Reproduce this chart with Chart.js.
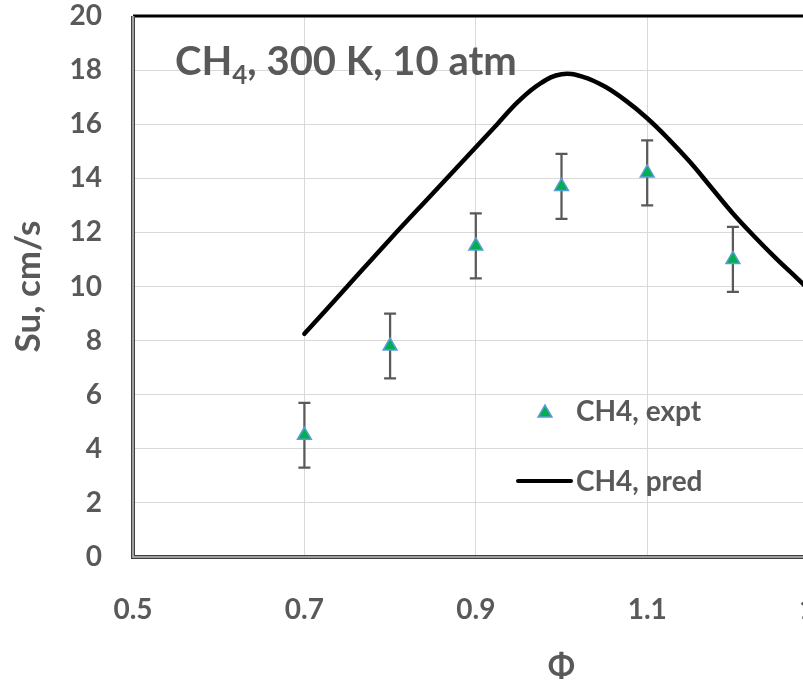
<!DOCTYPE html>
<html>
<head>
<meta charset="utf-8">
<script src="https://cdn.jsdelivr.net/npm/chart.js@4.4.1/dist/chart.umd.min.js"></script>
<style>
  html, body { margin: 0; padding: 0; background: #fff; overflow: hidden; }
  #wrap { position: relative; width: 803px; height: 686px; overflow: hidden; }
  #box { position: absolute; left: 0; top: 0; width: 1000px; height: 686px; }
</style>
</head>
<body>
<div id="wrap"><div id="box"><canvas id="c"></canvas></div></div>
<script>
// experiment: flame speed vs equivalence ratio
const phiExpt = [0.7, 0.8, 0.9, 1.0, 1.1, 1.2];
const suExpt = [4.5, 7.8, 11.5, 13.7, 14.2, 11.0];
const suErr = [1.2, 1.2, 1.2, 1.2, 1.2, 1.2];

// model prediction
const phiPred = [0.70, 0.75, 0.80, 0.85, 0.90, 0.925, 0.95, 0.975, 1.00, 1.025, 1.05, 1.075,
  1.10, 1.125, 1.15, 1.175, 1.20, 1.225, 1.25, 1.275, 1.30];
const suPred = [8.25, 10.0, 11.75, 13.45, 15.15, 16.0, 16.85, 17.5, 17.85, 17.75, 17.4, 16.87,
  16.22, 15.45, 14.6, 13.65, 12.7, 11.85, 11.05, 10.3, 9.55];

const xTicks = [0.5, 0.7, 0.9, 1.1, 1.3, 1.5];
const yTicks = [0, 2, 4, 6, 8, 10, 12, 14, 16, 18, 20];

const GREY = '#595959';
const FONT = 'Lato';

Chart.defaults.font.family = FONT;
Chart.defaults.color = GREY;

const noPad = s => { s.paddingTop = 0; s.paddingBottom = 0; s.paddingLeft = 0; s.paddingRight = 0; };

const errorBars = {
  id: 'errorBars',
  beforeDatasetsDraw(chart) {
    const { ctx, scales: { x, y } } = chart;
    ctx.save();
    ctx.strokeStyle = GREY;
    ctx.lineWidth = 2.25;
    phiExpt.forEach((p, i) => {
      const px = x.getPixelForValue(p);
      const top = y.getPixelForValue(suExpt[i] + suErr[i]);
      const bot = y.getPixelForValue(suExpt[i] - suErr[i]);
      ctx.beginPath();
      ctx.moveTo(px, top); ctx.lineTo(px, bot);
      ctx.moveTo(px - 6, top); ctx.lineTo(px + 6, top);
      ctx.moveTo(px - 6, bot); ctx.lineTo(px + 6, bot);
      ctx.stroke();
    });
    ctx.restore();
  }
};

const decorations = {
  id: 'decorations',
  afterDraw(chart) {
    const { ctx, chartArea: a } = chart;
    ctx.save();
    // frame
    ctx.strokeStyle = '#000';
    ctx.lineWidth = 3;
    ctx.beginPath(); ctx.moveTo(a.left, a.top); ctx.lineTo(a.right, a.top); ctx.stroke();
    ctx.strokeStyle = '#404040';
    ctx.lineWidth = 4;
    ctx.beginPath();
    ctx.moveTo(a.left, a.top); ctx.lineTo(a.left, a.bottom); ctx.lineTo(a.right, a.bottom);
    ctx.stroke();
    ctx.strokeStyle = '#bfbfbf';
    ctx.lineWidth = 1.5;
    ctx.stroke();

    // annotation
    ctx.fillStyle = GREY;
    ctx.textBaseline = 'alphabetic';
    ctx.textAlign = 'left';
    let tx = 175;
    ctx.font = 'bold 40px ' + FONT;
    ctx.fillText('CH', tx, 75);
    tx += ctx.measureText('CH').width;
    ctx.font = 'bold 26px ' + FONT;
    ctx.fillText('4', tx, 84);
    tx += ctx.measureText('4').width;
    ctx.font = 'bold 40px ' + FONT;
    ctx.fillText(', 300 K, 10 atm', tx, 75);

    // legend
    ctx.fillStyle = '#00b050';
    ctx.strokeStyle = '#5b9bd5';
    Chart.helpers.drawPoint(ctx, { pointStyle: 'triangle', radius: 8, borderWidth: 1.5 }, 545, 413);
    ctx.strokeStyle = '#000';
    ctx.lineWidth = 4;
    ctx.lineCap = 'round';
    ctx.beginPath(); ctx.moveTo(518, 481); ctx.lineTo(571, 481); ctx.stroke();
    ctx.fillStyle = GREY;
    ctx.font = 'bold 28px ' + FONT;
    ctx.fillText('CH4, expt', 576, 421);
    ctx.fillText('CH4, pred', 576, 491);
    ctx.restore();
  }
};

new Chart(document.getElementById('c'), {
  type: 'scatter',
  data: {
    datasets: [
      {
        label: 'CH4, pred',
        data: phiPred.map((p, i) => ({ x: p, y: suPred[i] })),
        showLine: true,
        borderColor: '#000',
        borderWidth: 4.5,
        borderCapStyle: 'round',
        borderJoinStyle: 'round',
        tension: 0.4,
        pointRadius: 0,
        order: 2
      },
      {
        label: 'CH4, expt',
        data: phiExpt.map((p, i) => ({ x: p, y: suExpt[i] })),
        pointStyle: 'triangle',
        pointRadius: 8,
        backgroundColor: '#00b050',
        borderColor: '#5b9bd5',
        borderWidth: 1.5,
        order: 1
      }
    ]
  },
  options: {
    responsive: true,
    maintainAspectRatio: false,
    animation: false,
    layout: { padding: { top: 16, left: 0, right: 10, bottom: 0 } },
    plugins: { legend: { display: false }, tooltip: { enabled: false } },
    scales: {
      x: {
        type: 'linear',
        min: 0.5, max: 1.5,
        afterBuildTicks: s => { s.ticks = xTicks.map(v => ({ value: v })); },
        afterFit: s => { s.height = 129; noPad(s); },
        grid: { color: '#d9d9d9', lineWidth: 1, drawTicks: false },
        border: { display: false },
        ticks: {
          padding: 36,
          font: { size: 28, weight: 'bold' },
          color: GREY,
          callback: v => v.toFixed(1)
        },
        title: {
          display: true,
          text: 'Φ',
          font: { size: 32, weight: 'bold', lineHeight: 1 },
          color: GREY,
          padding: { top: 0, bottom: 3 }
        }
      },
      y: {
        min: 0, max: 20,
        afterBuildTicks: s => { s.ticks = yTicks.map(v => ({ value: v })); },
        afterFit: s => { s.width = 133; noPad(s); },
        grid: { color: '#d9d9d9', lineWidth: 1, drawTicks: false },
        border: { display: false },
        ticks: {
          padding: 31,
          font: { size: 28, weight: 'bold' },
          color: GREY
        },
        title: {
          display: true,
          text: 'Su, cm/s',
          font: { size: 35, weight: 'bold', lineHeight: 1 },
          color: GREY,
          padding: { top: 11, bottom: 0 }
        }
      }
    }
  },
  plugins: [errorBars, decorations]
});
</script>
</body>
</html>
